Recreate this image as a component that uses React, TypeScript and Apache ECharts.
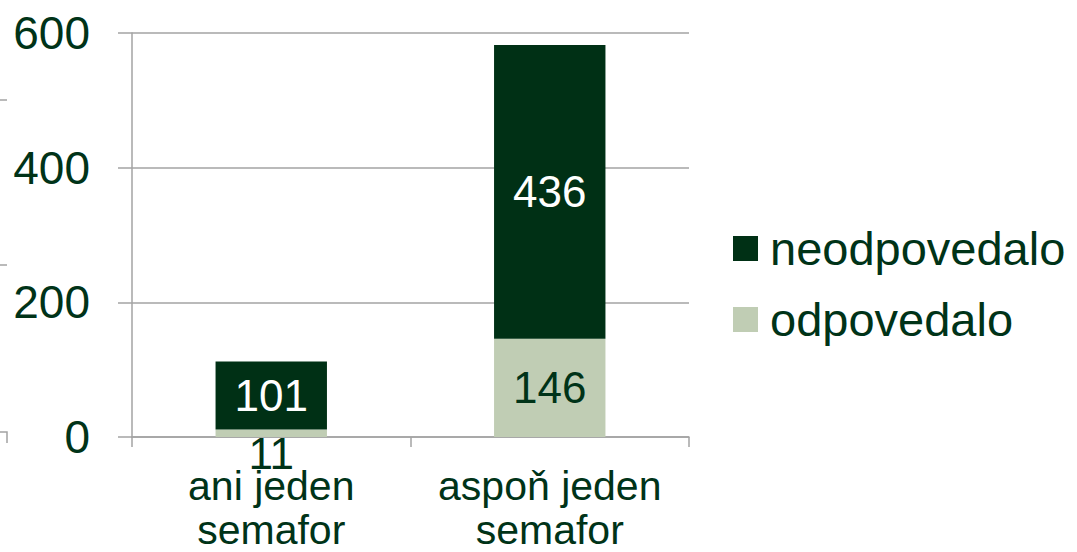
import React, { useEffect, useRef } from "react";
import * as echarts from "echarts";

const categories = ["ani jeden\nsemafor", "aspoň jeden\nsemafor"];
const answered = [11, 146]; // odpovedalo
const unanswered = [101, 436]; // neodpovedalo
const yTicks = { min: 0, max: 600, interval: 200 };

const DARK = "#003015";
const LIGHT = "#c0cdb4";
const TEXT = "#003318";
const GRID = "#a3a3a3";
const FONT = "'Liberation Sans', Arial, sans-serif";

export default function App() {
  const ref = useRef<HTMLDivElement>(null);
  useEffect(() => {
    if (!ref.current) return;
    const chart = echarts.init(ref.current, undefined, { renderer: "svg" });
    chart.setOption({
      animation: false,
      backgroundColor: "#ffffff",
      textStyle: { fontFamily: FONT },
      grid: { left: 132, right: 388, top: 33, bottom: 114, containLabel: false },
      legend: {
        orient: "vertical",
        left: 733,
        top: 225,
        padding: 0,
        itemWidth: 25,
        itemHeight: 25,
        itemGap: 24,
        icon: "rect",
        data: ["neodpovedalo", "odpovedalo"],
        textStyle: { fontSize: 47, color: TEXT, fontFamily: FONT, padding: [0, 0, 0, 7] },
      },
      xAxis: {
        type: "category",
        data: categories,
        axisLine: { show: true, lineStyle: { color: GRID, width: 1.5 } },
        axisTick: { show: true, length: 10, alignWithLabel: false, lineStyle: { color: GRID, width: 1.5 } },
        axisLabel: {
          fontSize: 41,
          lineHeight: 44,
          color: TEXT,
          margin: 27,
          fontFamily: FONT,
          interval: 0,
        },
      },
      yAxis: {
        type: "value",
        min: yTicks.min,
        max: yTicks.max,
        interval: yTicks.interval,
        axisLine: { show: true, lineStyle: { color: GRID, width: 1.5 } },
        axisTick: { show: true, length: 14, lineStyle: { color: GRID, width: 1.5 } },
        splitLine: { show: true, lineStyle: { color: GRID, width: 1.5 } },
        axisLabel: { fontSize: 46, color: TEXT, margin: 42, fontFamily: FONT },
      },
      series: [
        {
          name: "odpovedalo",
          type: "bar",
          stack: "total",
          barWidth: "40%",
          itemStyle: { color: LIGHT },
          data: answered.map((v, i) =>
            i === 0
              ? { value: v, label: { position: "bottom", distance: -6 } }
              : { value: v }
          ),
          label: {
            show: true,
            position: "inside",
            fontSize: 44,
            color: TEXT,
            fontFamily: FONT,
          },
        },
        {
          name: "neodpovedalo",
          type: "bar",
          stack: "total",
          barWidth: "40%",
          itemStyle: { color: DARK },
          data: unanswered,
          label: {
            show: true,
            position: "inside",
            fontSize: 44,
            color: "#ffffff",
            fontFamily: FONT,
          },
        },
      ],
      graphic: [
        { type: "line", shape: { x1: 0, y1: 100, x2: 7, y2: 100 }, style: { stroke: GRID, lineWidth: 1.5 } },
        { type: "line", shape: { x1: 0, y1: 265, x2: 7, y2: 265 }, style: { stroke: GRID, lineWidth: 1.5 } },
        { type: "polyline", shape: { points: [[0, 432], [7, 432], [7, 443]] }, style: { stroke: GRID, lineWidth: 1.5, fill: "none" } },
      ],
    });
    return () => chart.dispose();
  }, []);
  return (
    <div
      ref={ref}
      style={{ position: "fixed", left: 0, top: 0, width: 1077, height: 552, background: "#fff" }}
    />
  );
}
